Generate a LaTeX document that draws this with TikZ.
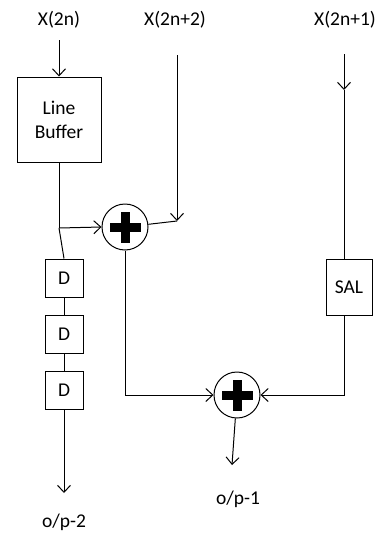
\documentclass[tikz,border=0pt]{standalone}
\usepackage{fontspec}
\setmainfont{Carlito}
\usetikzlibrary{arrows.meta}
\begin{document}
\begin{tikzpicture}[x=1pt,y=-1pt,
  font=\fontsize{19.5}{24}\selectfont,
  line/.style={line width=1pt},
  arr/.style={line width=1pt, -{Straight Barb[length=7pt,width=13pt]}},
  blk/.style={draw, line width=1pt, inner sep=0pt},
  adder/.style={circle, draw, line width=1pt, minimum size=46pt, inner sep=0pt,
    path picture={
      \fill ([shift={(-15.5pt,-4.5pt)}]path picture bounding box.center) rectangle ([shift={(15.5pt,4.5pt)}]path picture bounding box.center);
      \fill ([shift={(-4.5pt,-15.5pt)}]path picture bounding box.center) rectangle ([shift={(4.5pt,15.5pt)}]path picture bounding box.center);
    }}]
\useasboundingbox (0,0) rectangle (380,533);

% labels
\node (x0) at (59,20) {X(2n)};
\node (x2) at (175,20) {X(2n+2)};
\node (x1) at (345,20) {X(2n+1)};
\node (op1) at (238,499) {o/p-1};
\node (op2) at (64,522) {o/p-2};

% blocks
\node[blk, minimum width=84pt, minimum height=85pt, align=center] (lb) at (59,119.5) {Line\\Buffer};
\node[blk, minimum size=38pt] (d1) at (64,278) {D};
\node[blk, minimum size=38pt] (d2) at (64,334.5) {D};
\node[blk, minimum size=38pt] (d3) at (64,390.5) {D};
\node[blk, minimum width=46pt, minimum height=56pt] (sal) at (349,287) {SAL};
\node[adder] (a1) at (125,227) {};
\node[adder] (a2) at (237,395) {};

% coordinates
\coordinate (x0s) at (59,40);
\coordinate (j) at (59,228);
\coordinate (o2) at (64,493);
\coordinate (x2s) at (177,55);
\coordinate (x2c) at (177,221);
\coordinate (bend1) at (125,395);
\coordinate (x1s) at (344,54);
\coordinate (x1m) at (344,90);
\coordinate (bend2) at (344,395);
\coordinate (o1) at (232,465);

% left branch
\draw[arr] (x0s) -- (lb.north);
\draw[line] (lb.south) -- (j);
\draw[arr] (j) -- (a1.west);
\draw[line] (j) -- (d1.north);
\draw[line] (d1) -- (d2);
\draw[line] (d2) -- (d3);
\draw[arr] (d3.south) -- (o2);

% middle branch
\draw[arr] (x2s) -- (x2c);
\draw[line] (x2c) -- (a1);
\draw[arr] (a1.south) -- (bend1) -- (a2.west);

% right branch
\draw[arr] (x1s) -- (x1m);
\draw[line] (x1m) -- (sal.north -| x1m);
\draw[arr] (sal.south -| x1m) -- (bend2) -- (a2.east);

% output
\draw[arr] (a2) -- (o1);
\end{tikzpicture}
\end{document}
